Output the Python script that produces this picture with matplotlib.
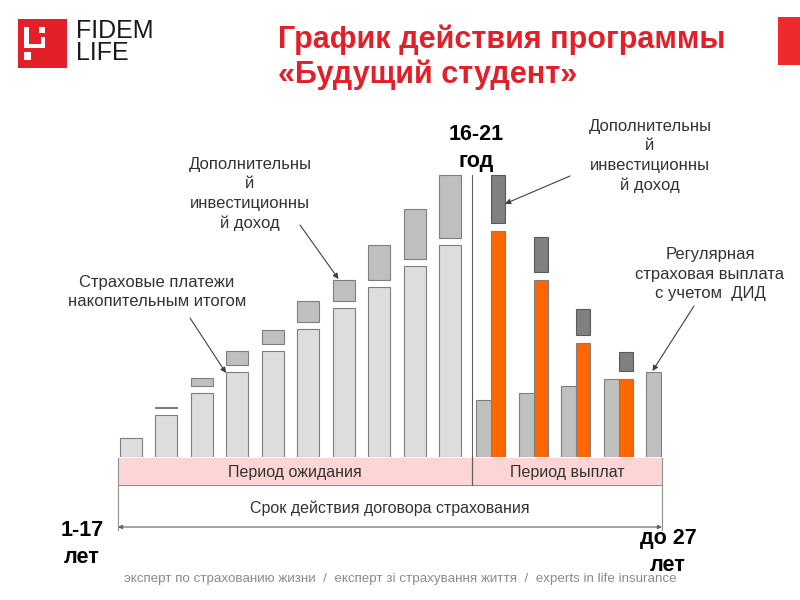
import numpy as np
import matplotlib.pyplot as plt
from matplotlib.patches import Rectangle

plt.rcParams['font.family'] = ['Liberation Sans', 'DejaVu Sans']

# accumulation phase: cumulative payments and extra investment income
payments = [19, 42, 64, 85, 106, 128, 149, 170, 191, 212]
invest_left = [0, 1, 8, 14, 14, 21, 21, 35, 50, 63]

# payout phase
regular = [57, 64, 71, 78, 85]
payout = [226, 177, 114, 78]
invest_right = [48, 35, 26, 19]

RED = '#e3202a'
ORANGE = '#ff6600'

fig = plt.figure(figsize=(8, 6), dpi=100)

# overlay in pixel coordinates for decorations
ov = fig.add_axes([0, 0, 1, 1])
ov.set_xlim(0, 800)
ov.set_ylim(600, 0)
ov.axis('off')

# bar axes: x in px from 118, y in px above baseline 457
base_y = 457
top_y = 160
ax = fig.add_axes([118 / 800, (600 - base_y) / 600, 544 / 800, (base_y - top_y) / 600])
ax.set_xlim(0, 544)
ax.set_ylim(0, base_y - top_y)
ax.axis('off')

pitch_l = 35.5
x_left = 12.5 + pitch_l * np.arange(len(payments))
ax.bar(x_left, payments, width=22, color='#dddddd', edgecolor='#7f7f7f', lw=0.8)
gap = 7
pay = np.array(payments)
inv = np.array(invest_left)
mask = inv > 0
ax.bar(x_left[mask], inv[mask], bottom=pay[mask] + gap, width=22,
       color='#bfbfbf', edgecolor='#7f7f7f', lw=0.8)

pitch_r = 42.5
x_reg = 365.5 + pitch_r * np.arange(len(regular))
x_pay = x_reg[:len(payout)] + 14.5
ax.bar(x_reg, regular, width=15, color='#c0c0c0', edgecolor='#7f7f7f', lw=0.8)
ax.bar(x_pay, payout, width=14, color=ORANGE, edgecolor='#7f7f7f', lw=0.8)
ax.bar(x_pay, invest_right, bottom=np.array(payout) + 8, width=14,
       color='#808080', edgecolor='#5a5a5a', lw=0.8)

# separator line between phases
ov.plot([472, 472], [175, 485], color='#606060', lw=0.8)

# period band
ov.add_patch(Rectangle((118, 458), 544, 27, facecolor='#fdd5d5', edgecolor='none'))
ov.plot([118, 662], [485, 485], color='#909090', lw=0.8)
ov.plot([118, 118], [458, 530], color='#909090', lw=0.8)
ov.plot([662, 662], [458, 530], color='#909090', lw=0.8)
ov.plot([472, 472], [458, 485], color='#606060', lw=0.8)
band = dict(ha='center', va='center', fontsize=11.5, color='#333333')
ov.text(295, 472, 'Период ожидания', **band)
ov.text(567, 472, 'Период выплат', **band)
ov.text(390, 508, 'Срок действия договора страхования', **band)
ov.annotate('', xy=(118, 527), xytext=(662, 527),
            arrowprops=dict(arrowstyle='<|-|>', color='#606060', lw=0.8, mutation_scale=6,
                            shrinkA=0, shrinkB=0))

# title
ov.text(278, 40, 'График действия программы', color=RED, fontsize=22, fontweight='bold',
        ha='left', va='center')
ov.text(278, 75, '«Будущий студент»', color=RED, fontsize=22, fontweight='bold',
        ha='left', va='center')

# logo
ov.add_patch(Rectangle((18, 19), 49, 49, facecolor=RED, edgecolor='none'))
ov.add_patch(Rectangle((24, 27), 5, 21, facecolor='white', edgecolor='none'))
ov.add_patch(Rectangle((24, 44), 21, 4, facecolor='white', edgecolor='none'))
ov.add_patch(Rectangle((41, 37), 4, 11, facecolor='white', edgecolor='none'))
ov.add_patch(Rectangle((39, 27), 6, 6, facecolor='white', edgecolor='none'))
ov.add_patch(Rectangle((24, 52), 7, 8, facecolor='white', edgecolor='none'))
ov.text(76, 31, 'FIDEM', fontsize=18, color='#1a1a1a', va='center', ha='left')
ov.text(76, 53, 'LIFE', fontsize=18, color='#1a1a1a', va='center', ha='left')
ov.add_patch(Rectangle((778, 17), 22, 48, facecolor='#ee2a2e', edgecolor='none'))

# big labels
big = dict(fontsize=15.5, fontweight='bold', ha='center', va='center', linespacing=1.4)
ov.text(476, 148, '16-21\nгод', **big)
ov.text(82, 544, '1-17\nлет', **big)
ov.text(668, 552, 'до 27\nлет', **big)

# annotations
arr = dict(arrowstyle='-|>', color='#404040', lw=0.8, mutation_scale=8, shrinkA=0, shrinkB=0)
tc = dict(fontsize=12, color='#333333', ha='center', va='center', linespacing=1.38)
ov.text(157, 292, 'Страховые платежи\nнакопительным итогом', **tc)
ax.annotate('', xy=(x_left[3] - 11, payments[3] - 1), xycoords='data',
            xytext=(190, 318), textcoords=ov.transData, arrowprops=arr)
ov.text(250, 194, 'Дополнительны\nй\nинвестиционны\nй доход', **tc)
ax.annotate('', xy=(x_left[6] - 5, payments[6] + gap + invest_left[6] + 1), xycoords='data',
            xytext=(300, 225), textcoords=ov.transData, arrowprops=arr)
ov.text(650, 156, 'Дополнительны\nй\nинвестиционны\nй доход', **tc)
ax.annotate('', xy=(x_pay[0] + 7, payout[0] + 8 + invest_right[0] * 0.4), xycoords='data',
            xytext=(570, 176), textcoords=ov.transData, arrowprops=arr)
ov.text(710, 274, 'Регулярная\nстраховая выплата\nс учетом  ДИД', **tc)
ax.annotate('', xy=(x_reg[4] - 1, regular[4] + 1), xycoords='data',
            xytext=(694, 306), textcoords=ov.transData, arrowprops=arr)

# footer
ov.text(400, 579, 'эксперт по страхованию жизни  /  експерт зі страхування життя  /  experts in life insurance',
        fontsize=9.6, color='#8a8a8a', ha='center', va='center')

fig.savefig('out.png', dpi=100)
